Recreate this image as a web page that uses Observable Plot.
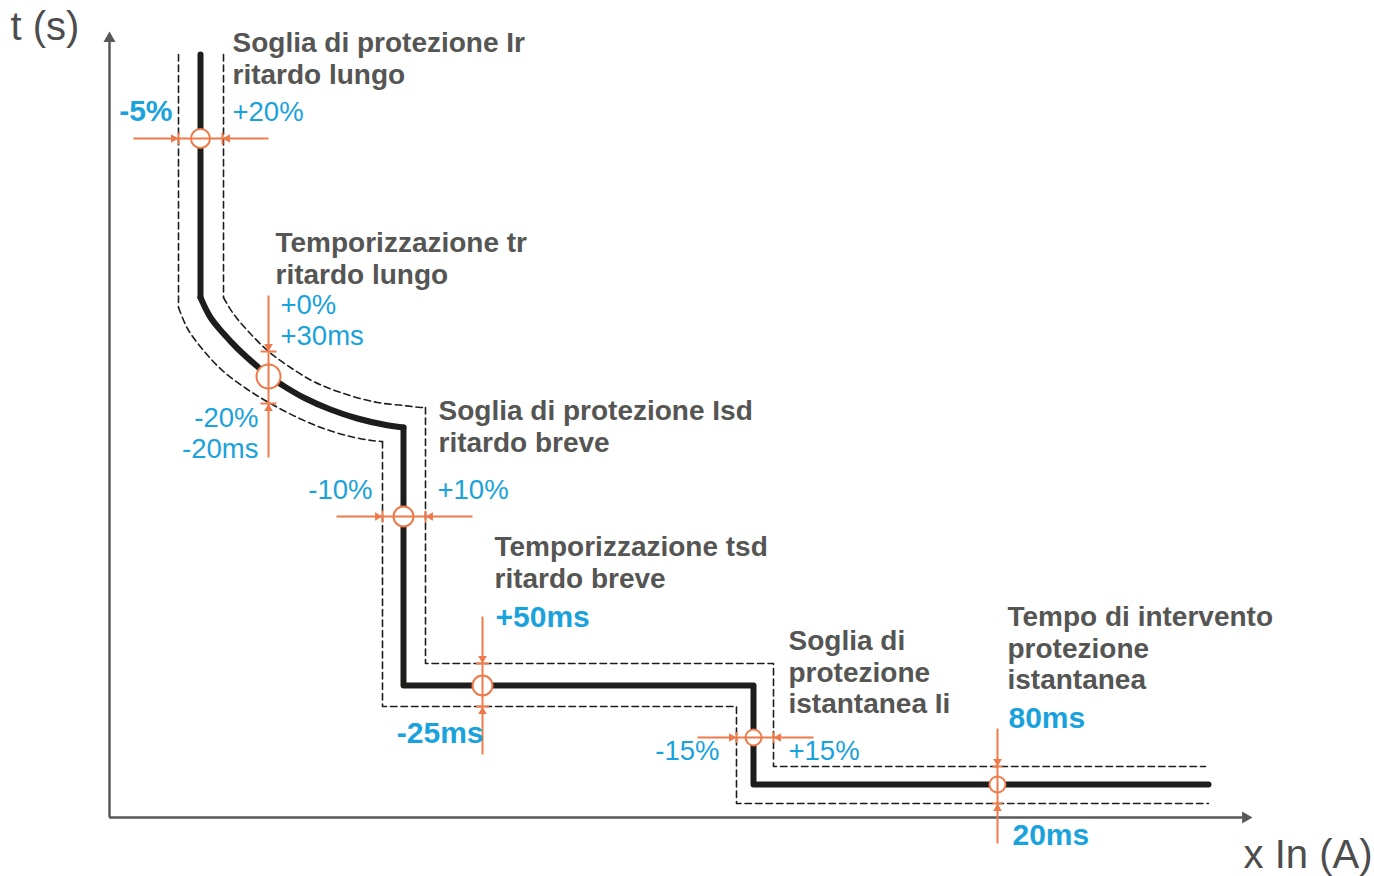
<!DOCTYPE html>
<html>
<head>
<meta charset="utf-8">
<script src="https://cdn.jsdelivr.net/npm/d3@7"></script>
<script src="https://cdn.jsdelivr.net/npm/@observablehq/plot@0.6"></script>
<style>
html,body{margin:0;padding:0;background:#fff;overflow:hidden}
</style>
</head>
<body>
<div id="chart"></div>
<script>
// Units: x = multiple of In (picture units from origin), y = time t (picture units from origin)
// Main trip curve
const mainTop = [[91,763],[91,520]];
const mainArc = [[91,520],[101,500],[114,484],[128,469],[149,450],[160,441],[175,431],[194,420],[221,408],[248,399],[274,393],[294,390]];
const mainSteps = [[294,390],[294,132],[644,132],[644,33],[1099,33]];
// Upper tolerance band (dashed)
const upperTop = [[114,763],[114,520]];
const upperArc = [[114,520],[123,505],[138,487],[158,467],[178,452],[204,436],[234,424],[268,415],[294,412],[311,410],[316,410]];
const upperSteps = [[316,410],[316,154],[664,154],[664,51],[1096,51]];
// Lower tolerance band (dashed)
const lowerTop = [[69,763],[69,510]];
const lowerArc = [[69,510],[78,489],[94,467],[114,446],[138,428],[161,414],[188,400],[214,389],[241,381],[262,377],[273,376]];
const lowerSteps = [[273,376],[273,111],[627,111],[627,14],[1099,14]];

// Setting points (circles): x, y, radius
const markerCircles = [[91,679,9.5],[159,441,12],[294,301,10],[373,132,10],[644,80,8],[888,33,8]];
// Orange guide lines: x1, y1, x2, y2
const guideLines = [[24,679,159,679],[159,522,159,360],[227,301,363,301],[373,201,373,63],[588,80,704,80],[888,89,888,-26]];
// Tolerance ticks: x, y, orientation ("v" vertical / "h" horizontal), half length
const toleranceTicks = [[69,679,"v",6],[113,679,"v",6],[159,466,"h",8],[159,414,"h",8],[273,301,"v",6],[316,301,"v",6],[373,154,"h",6.5],[373,111,"h",6.5],[627,80,"v",5.5],[664,80,"v",5.5],[888,51,"h",5],[888,14,"h",5]];
// Arrow tips: x, y, direction in degrees (0 up, 90 right, 180 down, 270 left)
const arrowTips = [[69,679,90],[113,679,270],[159,466,180],[159,414,0],[273,301,90],[316,301,270],[373,154,180],[373,111,0],[627,80,90],[664,80,270],[888,51,180],[888,14,0]];
// Axes
const axisEnds = {x: 1143, y: 786};
const axisArrows = [[0,786,0],[1143,0,90]];

// Text labels: text, x, y(top), anchor
const grayLabels = [
  ["Soglia di protezione Ir\nritardo lungo", 123, 788, "start"],
  ["Temporizzazione tr\nritardo lungo", 166, 588, "start"],
  ["Soglia di protezione Isd\nritardo breve", 329, 420, "start"],
  ["Temporizzazione tsd\nritardo breve", 385, 284, "start"],
  ["Soglia di\nprotezione\nistantanea Ii", 679, 190, "start"],
  ["Tempo di intervento\nprotezione\nistantanea", 898, 214, "start"]
];
const blueLabels = [
  ["+20%", 123, 719, "start"],
  ["+0%\n+30ms", 171, 526, "start"],
  ["-20%\n-20ms", 149, 413, "end"],
  ["-10%", 263, 341, "end"],
  ["+10%", 328, 341, "start"],
  ["-15%", 610, 80, "end"],
  ["+15%", 679, 80, "start"]
];
const blueBoldLabels = [
  ["-5%", 63, 718, "end"],
  ["+50ms", 386, 212, "start"],
  ["-25ms", 374, 96, "end"],
  ["80ms", 899, 111, "start"],
  ["20ms", 903, -6, "start"]
];
const axisTitles = [
  ["t (s)", -99, 806, "start"],
  ["x In (A)", 1263, -22, "end"]
];

const BLACK = "#1d1d1b", ORANGE = "#ee7a4b", BLUE = "#1aa2dc", GRAY = "#555554", AXIS = "#585858";
const FONT = "Liberation Sans, Arial, Helvetica, sans-serif";

const dirVec = {0:[0,1], 90:[1,0], 180:[0,-1], 270:[-1,0]};
const smallHead = {r: 3.2, d: 4.98};
const bigHead = {r: 4.46, d: 6.93};

const solid = {stroke: BLACK, strokeWidth: 6, strokeLinecap: "round", strokeLinejoin: "round"};
const dashed = {stroke: BLACK, strokeWidth: 1.6, strokeDasharray: "6.5,4"};
const P = {x: d => d[0], y: d => d[1]};

function labelMarks(rows, opts) {
  return ["start", "end"].map(a => Plot.text(rows.filter(d => d[3] === a), {
    x: d => d[1], y: d => d[2], text: d => d[0], textAnchor: a, lineAnchor: "top", ...opts
  }));
}

const chart = Plot.plot({
  width: 1374, height: 876,
  marginLeft: 109, marginRight: 0, marginTop: 0, marginBottom: 59,
  x: {domain: [0, 1265], axis: null},
  y: {domain: [0, 817], axis: null},
  r: {type: "identity"},
  style: {fontFamily: FONT, background: "#fff", overflow: "visible"},
  marks: [
    // axes
    Plot.ruleY([0], {x1: 0, x2: axisEnds.x - 10, stroke: AXIS, strokeWidth: 2.5}),
    Plot.ruleX([0], {y1: 0, y2: axisEnds.y - 10, stroke: AXIS, strokeWidth: 2.5}),
    Plot.dot(axisArrows, {x: d => d[0] - dirVec[d[2]][0]*bigHead.d, y: d => d[1] - dirVec[d[2]][1]*bigHead.d, rotate: d => d[2], symbol: "triangle", r: bigHead.r, fill: AXIS, stroke: "none"}),
    // dashed tolerance bands
    Plot.line(upperTop, {...P, ...dashed}),
    Plot.line(upperArc, {...P, ...dashed, curve: "catmull-rom"}),
    Plot.line(upperSteps, {...P, ...dashed}),
    Plot.line(lowerTop, {...P, ...dashed}),
    Plot.line(lowerArc, {...P, ...dashed, curve: "catmull-rom"}),
    Plot.line(lowerSteps, {...P, ...dashed}),
    // main curve
    Plot.line(mainTop, {...P, ...solid}),
    Plot.line(mainArc, {...P, ...solid, curve: "catmull-rom"}),
    Plot.line(mainSteps, {...P, ...solid}),
    // circles
    Plot.dot(markerCircles, {x: d => d[0], y: d => d[1], r: d => d[2], fill: "#fff", stroke: ORANGE, strokeWidth: 2}),
    // orange guides
    Plot.link(guideLines, {x1: d => d[0], y1: d => d[1], x2: d => d[2], y2: d => d[3], stroke: ORANGE, strokeWidth: 2}),
    Plot.link(toleranceTicks, {
      x1: d => d[2] === "v" ? d[0] : d[0] - d[3], x2: d => d[2] === "v" ? d[0] : d[0] + d[3],
      y1: d => d[2] === "v" ? d[1] - d[3] : d[1], y2: d => d[2] === "v" ? d[1] + d[3] : d[1],
      stroke: ORANGE, strokeWidth: 2
    }),
    Plot.dot(arrowTips, {x: d => d[0] - dirVec[d[2]][0]*smallHead.d, y: d => d[1] - dirVec[d[2]][1]*smallHead.d, rotate: d => d[2], symbol: "triangle", r: smallHead.r, fill: ORANGE, stroke: "none"}),
    // text
    ...labelMarks(grayLabels, {lineHeight: 1.13, fontSize: 28, fontWeight: "bold", fill: GRAY}),
    ...labelMarks(blueLabels, {lineHeight: 1.13, fontSize: 27.5, fill: BLUE}),
    ...labelMarks(blueBoldLabels, {fontSize: 30, fontWeight: "bold", fill: BLUE}),
    ...labelMarks(axisTitles, {fontSize: 40, fill: "#4d4d4d"})
  ]
});
document.getElementById("chart").append(chart);
</script>
</body>
</html>
